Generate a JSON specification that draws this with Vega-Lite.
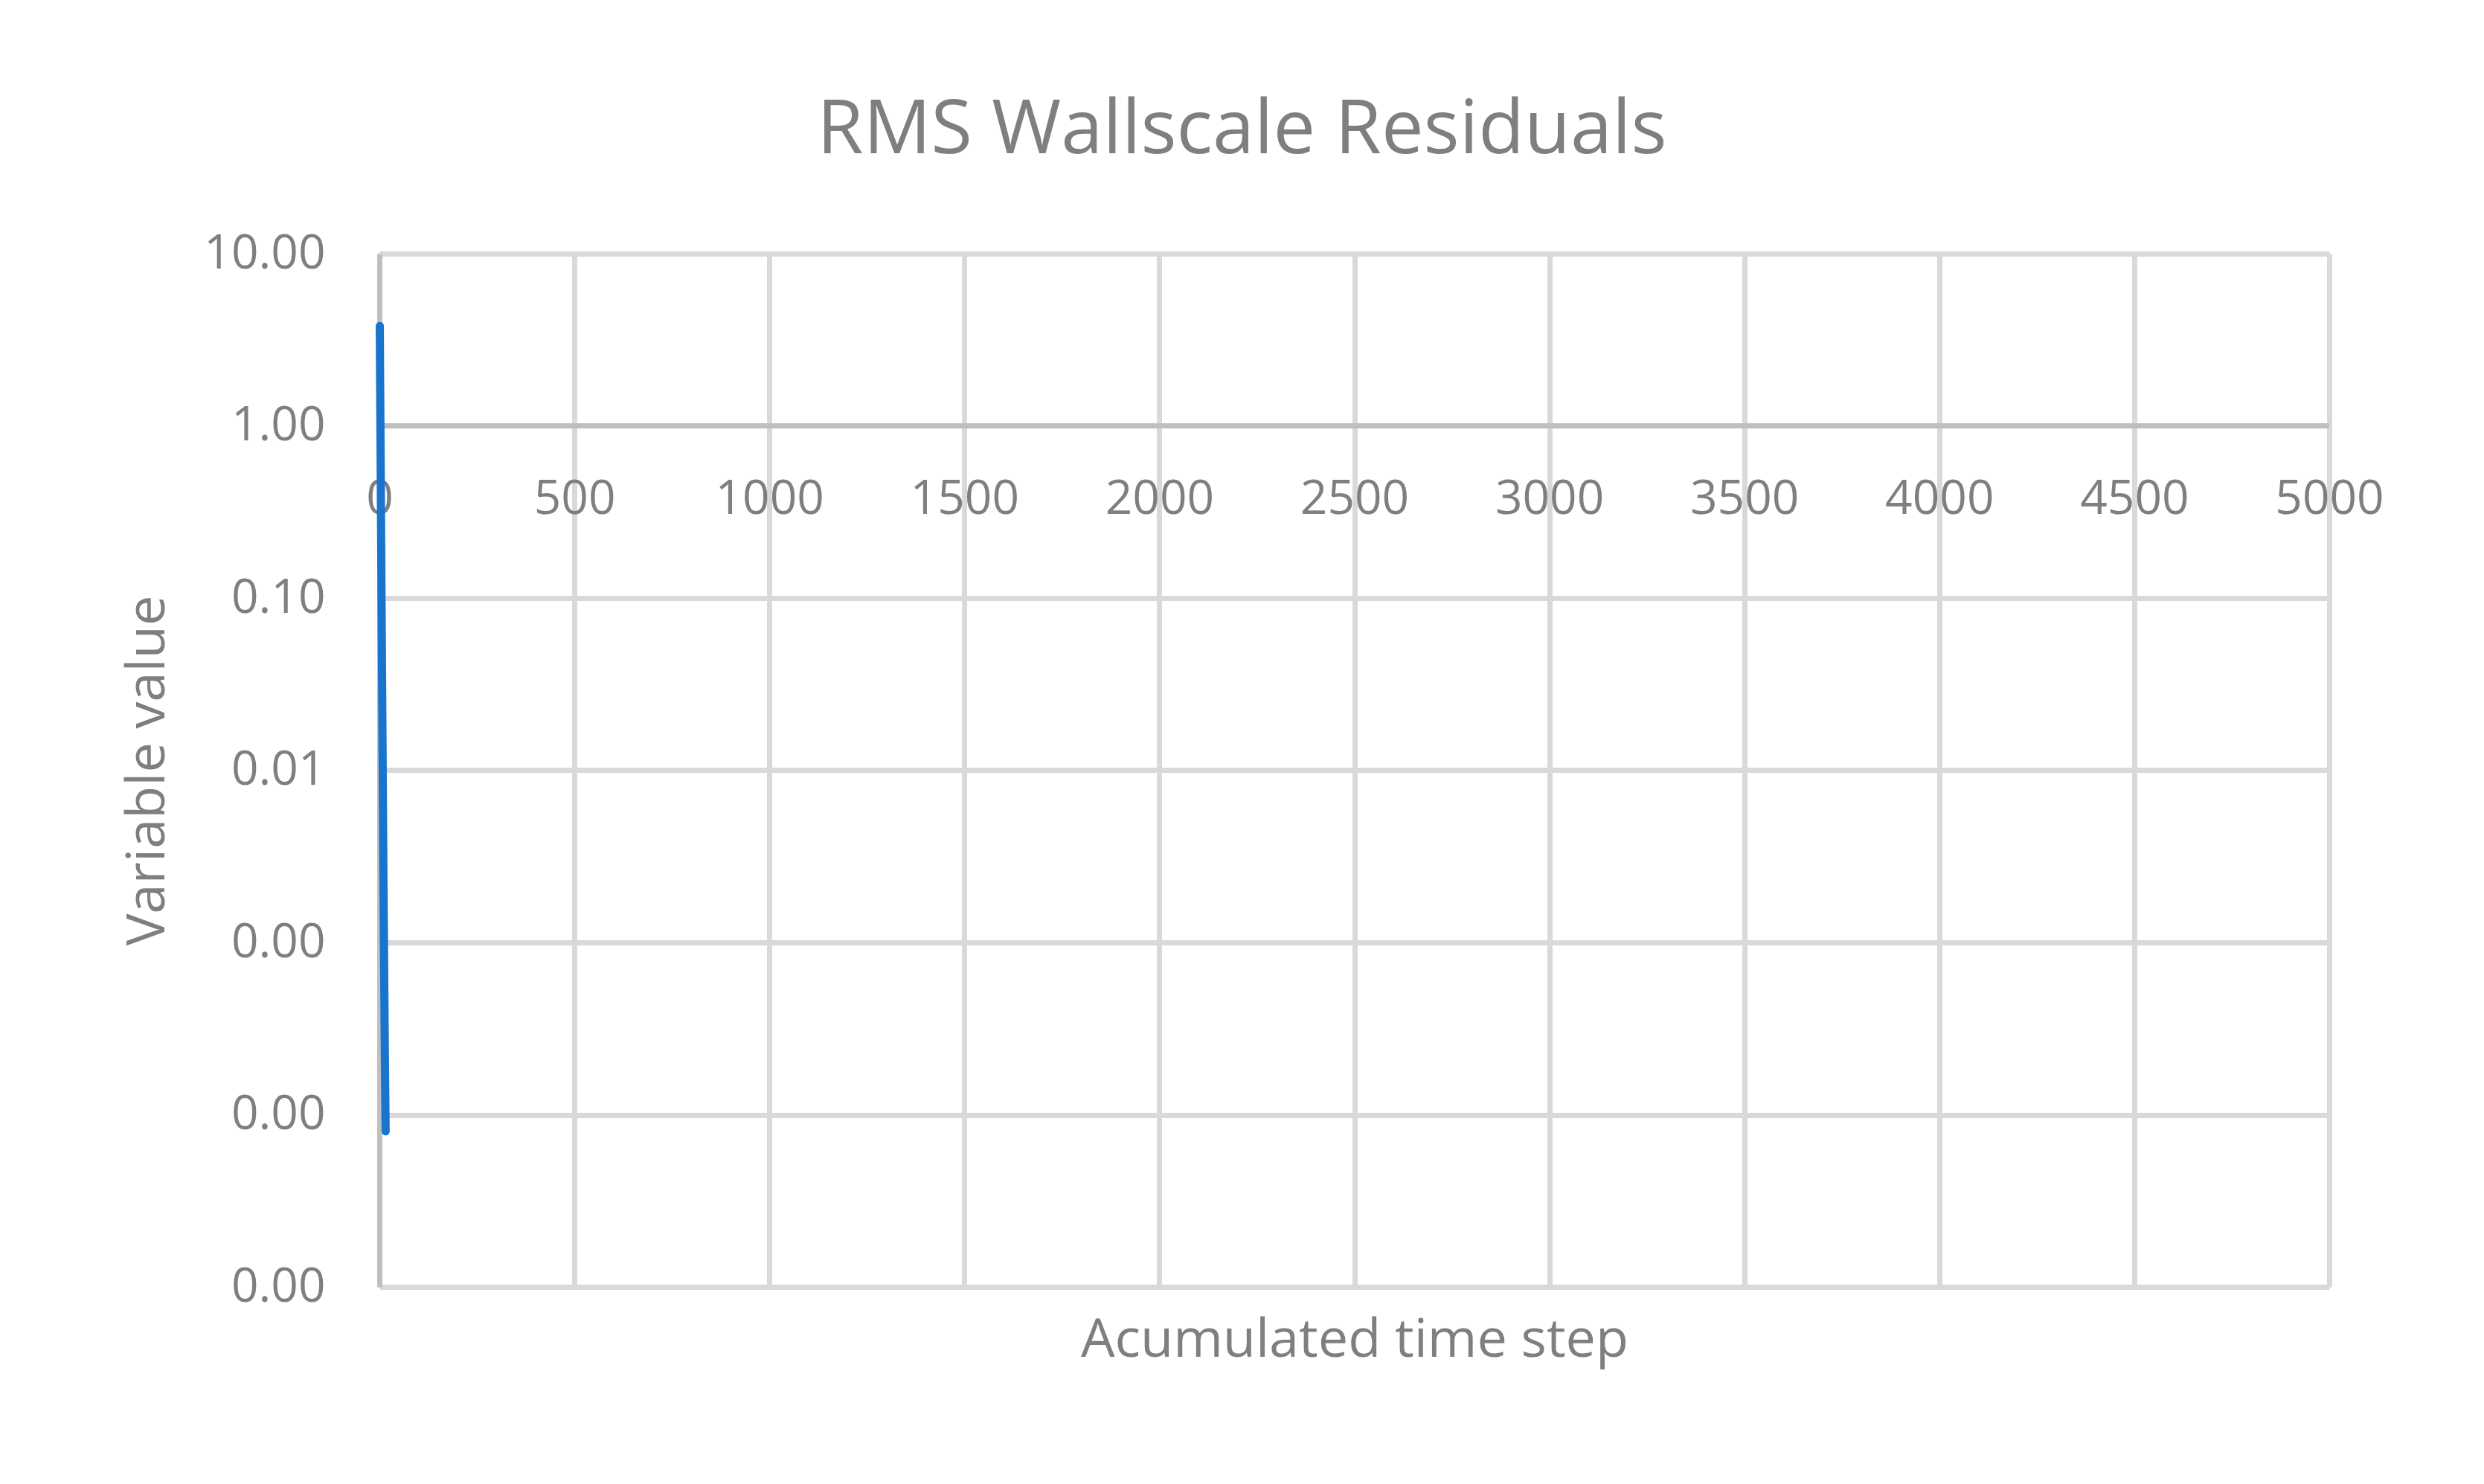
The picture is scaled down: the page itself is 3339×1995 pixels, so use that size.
{
  "$schema": "https://vega.github.io/schema/vega-lite/v6.json",
  "width": 2621,
  "height": 1389,
  "autosize": "none",
  "padding": {"left": 510, "top": 341, "right": 208, "bottom": 265},
  "background": "white",
  "title": {
    "text": "RMS Wallscale Residuals",
    "frame": "group",
    "anchor": "middle",
    "dx": -151,
    "offset": 2,
    "baseline": "alphabetic",
    "fontSize": 101,
    "font": "Open Sans",
    "fontWeight": "normal",
    "color": "#7f7f7f"
  },
  "config": {
    "view": {"stroke": null},
    "axis": {
      "labelFont": "Open Sans",
      "labelFontSize": 64,
      "labelColor": "#7f7f7f",
      "titleFont": "Open Sans",
      "titleFontSize": 72,
      "titleFontWeight": "normal",
      "titleColor": "#7f7f7f",
      "gridColor": "#d9d9d9",
      "gridWidth": 7,
      "domainColor": "#bfbfbf",
      "domainWidth": 7,
      "ticks": false
    }
  },
  "data": {
    "values": [
      {"step": 1, "value": 3.8},
      {"step": 2, "value": 1.6},
      {"step": 3, "value": 0.75},
      {"step": 4, "value": 0.33},
      {"step": 5, "value": 0.15},
      {"step": 6, "value": 0.065},
      {"step": 7, "value": 0.03},
      {"step": 8, "value": 0.014},
      {"step": 9, "value": 0.0065},
      {"step": 10, "value": 0.003},
      {"step": 11, "value": 0.0015},
      {"step": 12, "value": 0.0008},
      {"step": 13, "value": 0.00042},
      {"step": 14, "value": 0.00022},
      {"step": 15, "value": 0.00013},
      {"step": 16, "value": 0.00008}
    ]
  },
  "layer": [
    {
      "mark": {"type": "rule", "color": "#bfbfbf", "strokeWidth": 7},
      "encoding": {
        "y": {"datum": 1, "type": "quantitative"}
      }
    },
    {
      "mark": {"type": "line", "color": "#1874cd", "strokeWidth": 11, "strokeCap": "round", "strokeJoin": "round"},
      "encoding": {
        "x": {
          "field": "step",
          "type": "quantitative",
          "scale": {"domain": [0, 5000], "nice": false},
          "axis": {
            "values": [0, 500, 1000, 1500, 2000, 2500, 3000, 3500, 4000, 4500, 5000],
            "format": "d",
            "grid": true,
            "domain": false,
            "labelPadding": -1091,
            "labelFlush": false,
            "labelOverlap": false,
            "title": "Acumulated time step",
            "titlePadding": 36
          }
        },
        "y": {
          "field": "value",
          "type": "quantitative",
          "scale": {"type": "log", "domain": [0.00001, 10], "nice": false},
          "axis": {
            "values": [0.00001, 0.0001, 0.001, 0.01, 0.1, 1, 10],
            "format": ".2f",
            "grid": true,
            "domain": true,
            "labelPadding": 73,
            "title": "Variable value",
            "titlePadding": 75
          }
        }
      }
    }
  ]
}
